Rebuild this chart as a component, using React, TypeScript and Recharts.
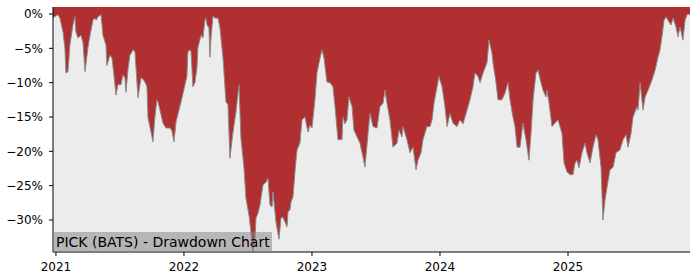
import React from "react"
import {
  AreaChart,
  Area,
  XAxis,
  YAxis,
  CartesianGrid,
} from "recharts"

// time in decimal years, drawdown in percent
const years = [
  2020.977, 2021.0, 2021.016, 2021.031, 2021.055, 2021.07, 2021.078, 2021.094, 2021.109, 2021.133,
  2021.148, 2021.156, 2021.172, 2021.195, 2021.211, 2021.227, 2021.25, 2021.266, 2021.289, 2021.305,
  2021.313, 2021.328, 2021.352, 2021.367, 2021.391, 2021.398, 2021.422, 2021.438, 2021.453, 2021.469,
  2021.484, 2021.508, 2021.523, 2021.539, 2021.547, 2021.563, 2021.578, 2021.594, 2021.602, 2021.617,
  2021.641, 2021.664, 2021.68, 2021.695, 2021.711, 2021.719, 2021.734, 2021.758, 2021.773, 2021.789,
  2021.797, 2021.813, 2021.836, 2021.859, 2021.891, 2021.906, 2021.922, 2021.938, 2021.961, 2021.977,
  2022.008, 2022.023, 2022.031, 2022.047, 2022.055, 2022.07, 2022.086, 2022.102, 2022.109, 2022.133,
  2022.148, 2022.164, 2022.172, 2022.18, 2022.195, 2022.203, 2022.211, 2022.227, 2022.242, 2022.266,
  2022.281, 2022.305, 2022.328, 2022.344, 2022.359, 2022.383, 2022.406, 2022.43, 2022.445, 2022.469,
  2022.484, 2022.508, 2022.523, 2022.539, 2022.555, 2022.563, 2022.578, 2022.594, 2022.617, 2022.641,
  2022.656, 2022.672, 2022.688, 2022.695, 2022.719, 2022.742, 2022.758, 2022.773, 2022.789, 2022.805,
  2022.813, 2022.828, 2022.836, 2022.852, 2022.867, 2022.883, 2022.906, 2022.922, 2022.945, 2022.969,
  2022.984, 2023.0, 2023.023, 2023.039, 2023.055, 2023.078, 2023.094, 2023.117, 2023.141, 2023.164,
  2023.18, 2023.203, 2023.234, 2023.242, 2023.258, 2023.273, 2023.289, 2023.313, 2023.328, 2023.352,
  2023.375, 2023.398, 2023.414, 2023.438, 2023.453, 2023.477, 2023.508, 2023.531, 2023.555, 2023.57,
  2023.586, 2023.609, 2023.633, 2023.664, 2023.68, 2023.703, 2023.711, 2023.742, 2023.766, 2023.789,
  2023.813, 2023.828, 2023.852, 2023.867, 2023.898, 2023.922, 2023.938, 2023.953, 2023.977, 2023.992,
  2024.016, 2024.039, 2024.055, 2024.078, 2024.102, 2024.133, 2024.156, 2024.18, 2024.211, 2024.234,
  2024.258, 2024.273, 2024.297, 2024.313, 2024.336, 2024.367, 2024.383, 2024.406, 2024.414, 2024.438,
  2024.453, 2024.484, 2024.508, 2024.531, 2024.547, 2024.57, 2024.586, 2024.602, 2024.625, 2024.648,
  2024.672, 2024.695, 2024.711, 2024.727, 2024.75, 2024.766, 2024.789, 2024.805, 2024.828, 2024.836,
  2024.852, 2024.875, 2024.898, 2024.922, 2024.953, 2024.969, 2024.992, 2025.016, 2025.039, 2025.055,
  2025.07, 2025.086, 2025.109, 2025.133, 2025.148, 2025.172, 2025.195, 2025.219, 2025.234, 2025.258,
  2025.273, 2025.289, 2025.305, 2025.328, 2025.352, 2025.375, 2025.406, 2025.43, 2025.453, 2025.469,
  2025.492, 2025.508, 2025.539, 2025.547, 2025.563, 2025.586, 2025.602, 2025.625, 2025.656, 2025.68,
  2025.703, 2025.719, 2025.734, 2025.75, 2025.766, 2025.781, 2025.805, 2025.82, 2025.844, 2025.859,
  2025.875, 2025.898, 2025.914, 2025.93, 2025.953,
]

const drawdown = [
  -0.5, -0.3, -0.1, -0.6, -2.6, -5.0, -8.6, -8.4, -4.5, -1.6,
  -0.4, -2.6, -3.5, -3.1, -4.1, -8.4, -4.9, -3.1, -0.9, -0.6,
  -0.9, -0.4, -0.1, -3.1, -4.5, -7.5, -6.0, -6.4, -8.9, -11.8,
  -10.3, -10.3, -8.9, -9.3, -11.4, -8.0, -6.0, -5.5, -5.2, -5.5,
  -12.2, -9.3, -9.5, -9.9, -10.6, -15.1, -16.4, -18.6, -15.0, -12.5,
  -12.8, -14.0, -15.9, -16.6, -16.6, -17.0, -18.6, -15.7, -14.0, -12.8,
  -10.3, -9.1, -5.5, -5.2, -5.5, -10.6, -10.0, -7.7, -4.9, -3.1,
  -3.5, -0.9, -0.6, -1.6, -2.0, -6.3, -3.5, -0.3, -0.6, -0.6,
  -2.0, -6.4, -12.8, -13.2, -21.0, -17.2, -14.3, -10.3, -18.1, -22.4,
  -26.8, -29.3, -31.7, -34.6, -32.6, -29.7, -29.0, -27.8, -24.9, -24.5,
  -23.9, -27.8, -28.1, -25.9, -30.3, -32.8, -29.7, -29.6, -30.3, -31.0,
  -28.8, -28.5, -27.4, -26.6, -23.0, -19.8, -18.8, -15.4, -15.0, -17.2,
  -16.2, -16.6, -12.5, -8.6, -7.1, -5.2, -6.4, -9.9, -10.0, -10.6,
  -13.5, -18.3, -18.3, -15.0, -16.0, -15.4, -12.1, -13.5, -16.9, -17.9,
  -18.8, -20.8, -22.3, -17.4, -14.5, -16.4, -16.6, -13.5, -13.0, -11.1,
  -13.0, -15.4, -19.4, -18.8, -16.9, -17.9, -16.4, -18.3, -20.2, -19.4,
  -22.7, -21.3, -20.2, -18.3, -16.4, -16.4, -15.4, -13.0, -10.6, -9.1,
  -10.6, -13.5, -16.4, -14.5, -15.9, -16.4, -15.4, -16.0, -14.0, -12.5,
  -10.6, -8.6, -9.1, -10.0, -8.6, -7.1, -3.8, -5.7, -7.1, -10.0,
  -12.5, -12.5, -11.5, -10.0, -12.5, -15.0, -16.4, -19.4, -19.4, -15.9,
  -18.3, -21.3, -17.4, -12.5, -8.6, -8.2, -10.0, -11.1, -12.1, -11.1,
  -13.0, -16.4, -15.9, -15.4, -17.4, -21.7, -23.0, -23.4, -23.4, -21.7,
  -21.3, -22.4, -20.2, -18.8, -20.2, -21.7, -19.4, -17.6, -18.3, -22.3,
  -30.0, -27.1, -25.2, -22.7, -22.3, -20.2, -19.8, -18.3, -17.6, -19.4,
  -17.4, -15.0, -13.5, -14.0, -10.0, -14.0, -12.1, -11.1, -9.6, -8.2,
  -6.3, -5.2, -3.3, -0.9, -0.4, -0.9, -1.6, -0.6, -1.9, -3.3,
  -1.9, -3.8, -0.9, -0.1, 0,
]

const yearTicks = [2021, 2022, 2023, 2024, 2025]
const pctTicks = [0, -5, -10, -15, -20, -25, -30]
const title = "PICK (BATS) - Drawdown Chart"

const data = years.map((t, i) => ({ t, dd: drawdown[i] }))

const font = "'DejaVu Sans', sans-serif"

const fmtPct = (v: number) => (v < 0 ? "\u2212" + Math.abs(v) : String(v)) + "%"

export default function App() {
  return (
    <div style={{ position: "absolute", left: 0, top: 0, width: 700, height: 280, background: "#fff" }}>
      <AreaChart
        width={700}
        height={280}
        data={data}
        margin={{ top: 7, right: 10, bottom: 0, left: 0 }}
      >
        <CartesianGrid fill="#ececec" horizontal={false} vertical={false} />
        <XAxis
          dataKey="t"
          type="number"
          domain={[2020.977, 2025.953]}
          allowDataOverflow
          ticks={yearTicks}
          tickFormatter={(v: number) => String(Math.round(v))}
          stroke="#000"
          tick={{ fill: "#000", fontSize: 12, fontFamily: font }}
          tickSize={4}
          tickMargin={6}
          height={28}
        />
        <XAxis
          xAxisId="top"
          orientation="top"
          type="number"
          domain={[2020.977, 2025.953]}
          tick={false}
          tickLine={false}
          stroke="#000"
          height={0}
        />
        <YAxis
          type="number"
          domain={[-34.66, 1.02]}
          allowDataOverflow
          ticks={pctTicks}
          tickFormatter={fmtPct}
          stroke="#000"
          tick={{ fill: "#000", fontSize: 12, fontFamily: font }}
          tickSize={4}
          tickMargin={6}
          width={53}
        />
        <YAxis
          yAxisId="right"
          orientation="right"
          tick={false}
          tickLine={false}
          stroke="#000"
          width={0}
        />
        <Area
          type="linear"
          dataKey="dd"
          baseValue="dataMax"
          fill="#b03031"
          fillOpacity={1}
          stroke="#8a8a8a"
          strokeWidth={1}
          isAnimationActive={false}
          dot={false}
          activeDot={false}
        />
      </AreaChart>
      <div
        style={{
          position: "absolute",
          left: 53,
          top: 232,
          height: 20,
          lineHeight: "20px",
          padding: "0 2px 0 3px",
          background: "rgba(128,128,128,0.5)",
          fontFamily: font,
          fontSize: 14,
          color: "#000",
          whiteSpace: "nowrap",
        }}
      >
        {title}
      </div>
    </div>
  )
}
